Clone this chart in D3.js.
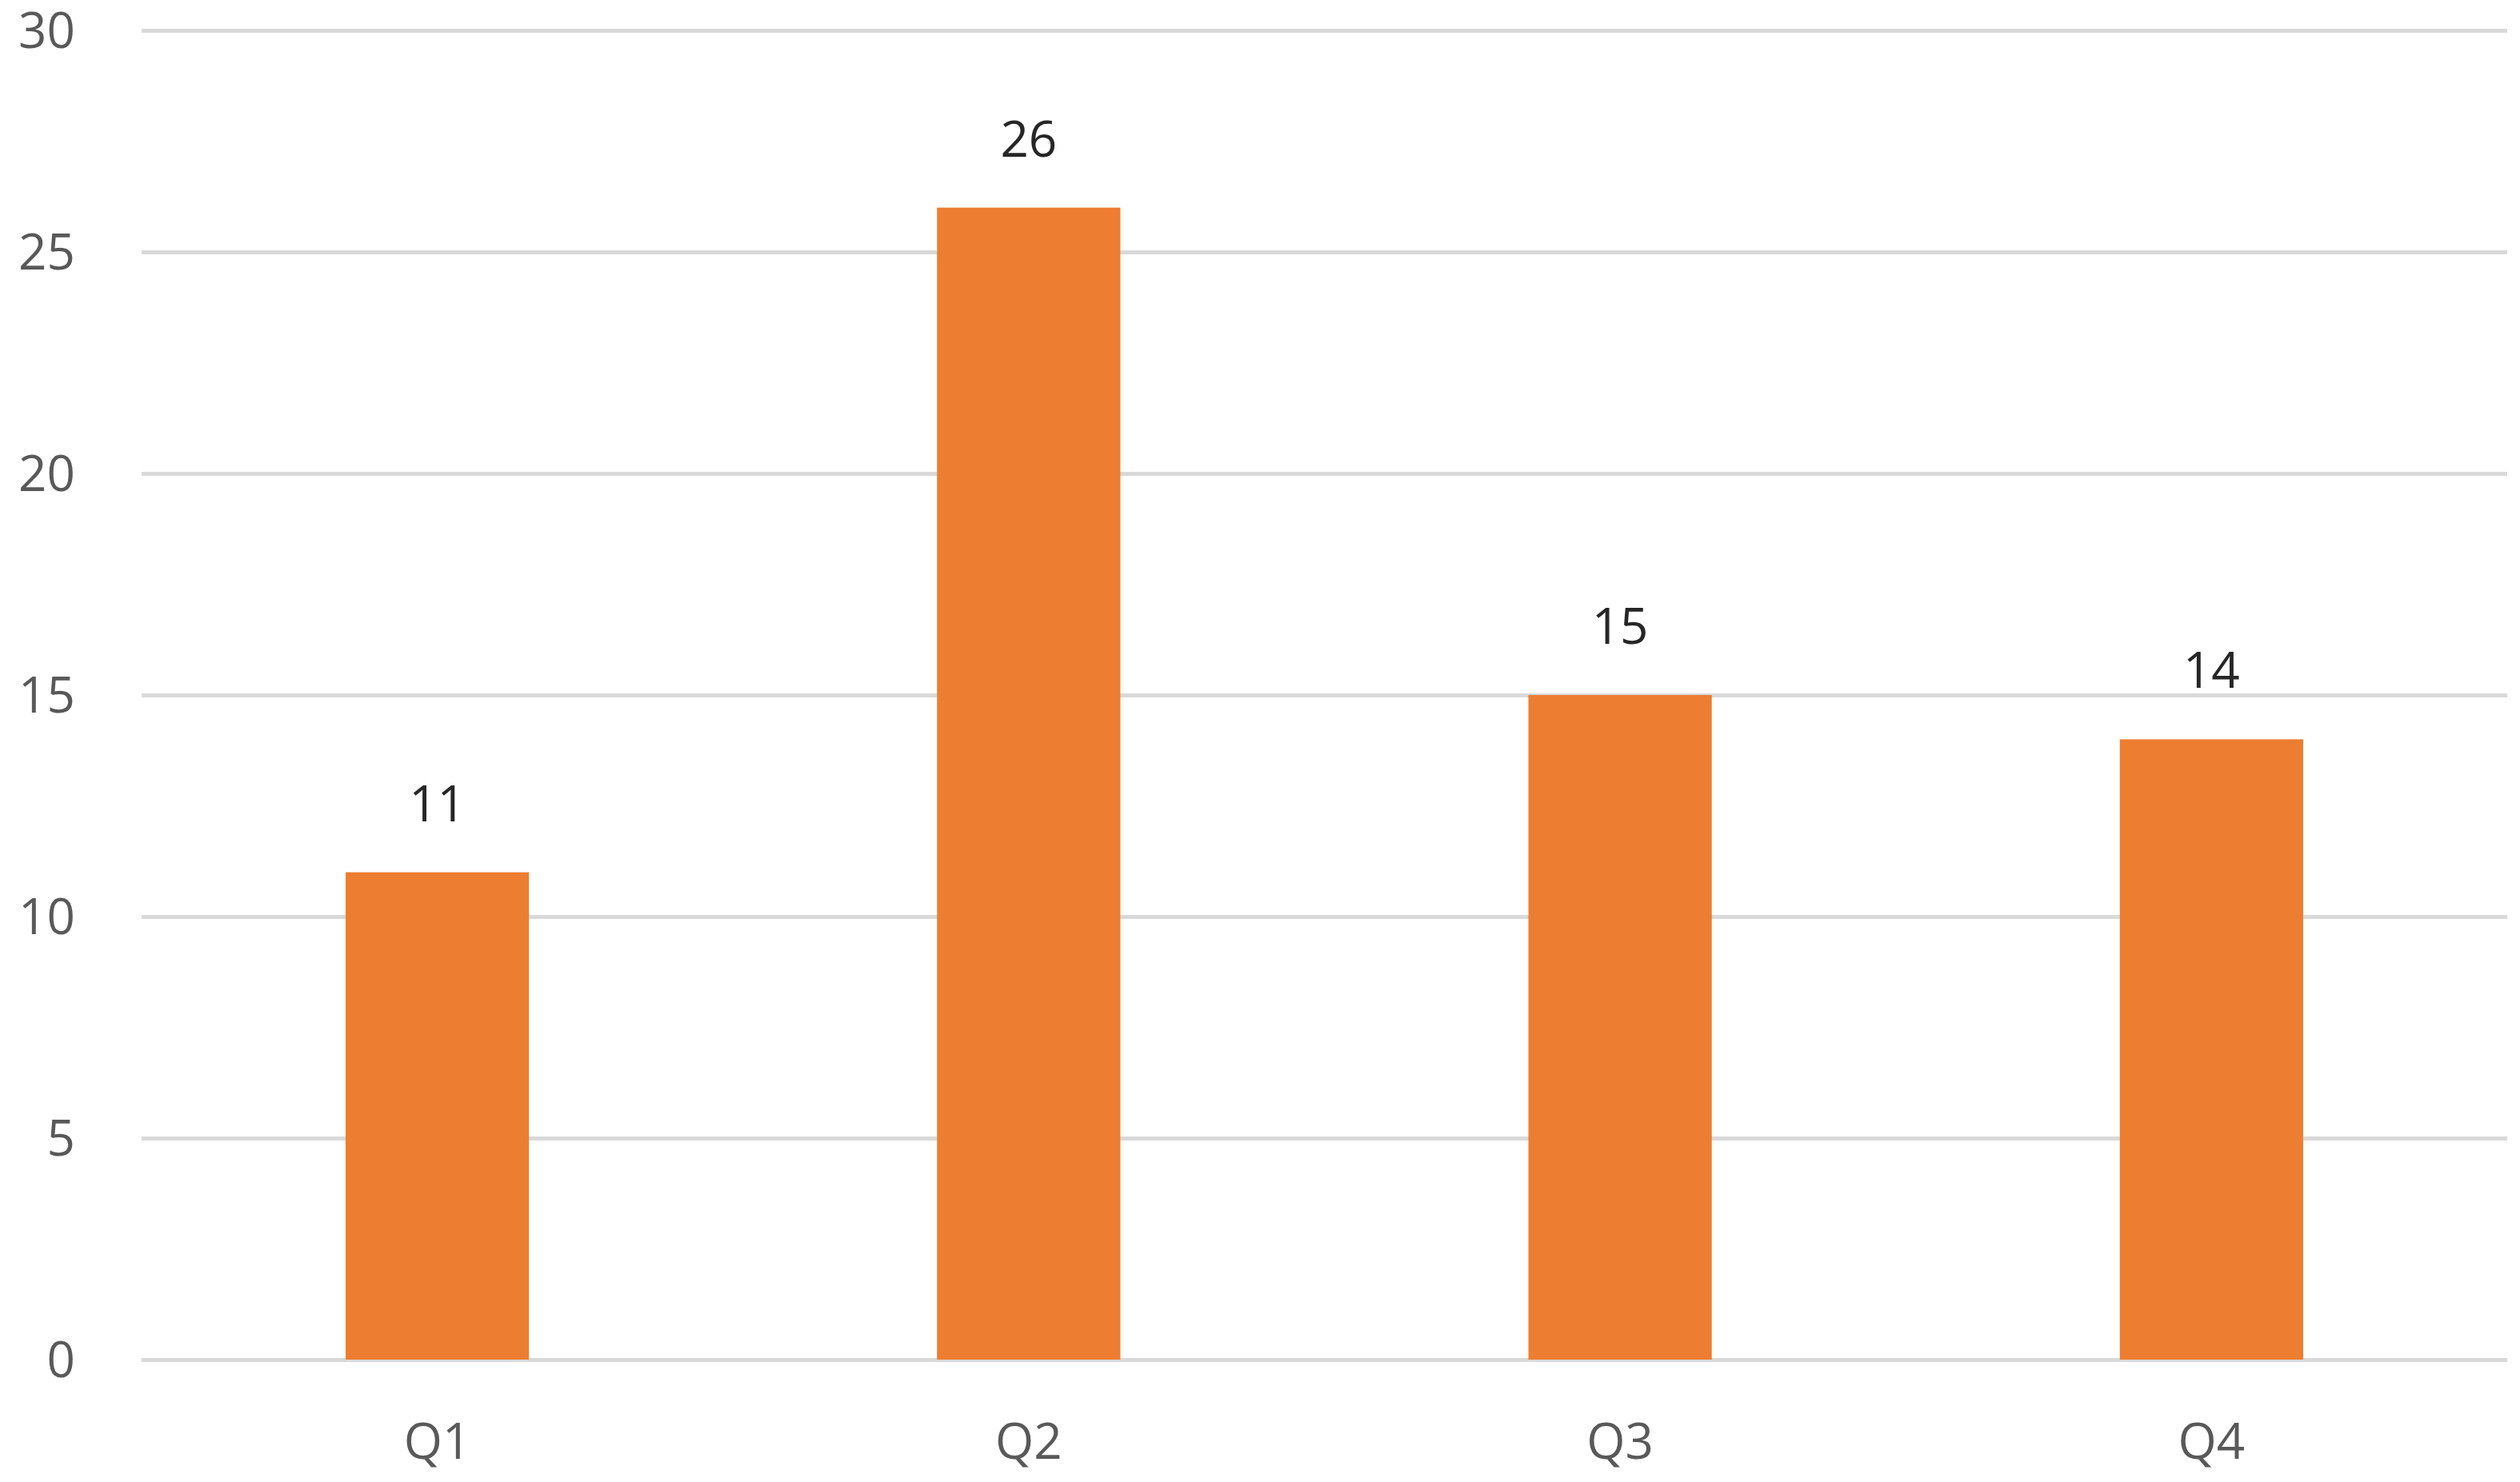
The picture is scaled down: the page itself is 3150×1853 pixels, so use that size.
<!doctype html>
<html>
<head>
    <meta charset="UTF-8">
    <title>Quarterly values</title>
    <script src="https://d3js.org/d3.v7.min.js" charset="utf-8"></script>
    <style>
        body { margin: 0; background: #fff; }
        text { font-family: "Open Sans", "Liberation Sans", sans-serif; }
    </style>
</head>
<body>
    <svg id="chart" width="3150" height="1853"></svg>
    <script type="text/javascript">

        var quarters = ["Q1", "Q2", "Q3", "Q4"];
        var values = [11, 26, 15, 14];
        var yTicks = [0, 5, 10, 15, 20, 25, 30];

        var svg = d3.select("#chart");
        var plotLeft = 177, plotRight = 3134, plotTop = 38, plotBottom = 1700;
        var fontSize = 62;

        var x = d3.scaleBand()
                    .domain(quarters)
                    .range([plotLeft, plotRight])
                    .paddingInner(0.69)
                    .paddingOuter(0.345);

        var y = d3.scaleLinear()
                    .domain([0, 30])
                    .range([plotBottom, plotTop]);

        // gridlines + y labels
        var yAxis = svg.append("g")
                    .attr("transform", "translate(" + plotLeft + ",0)")
                    .call(d3.axisLeft(y)
                            .tickValues(yTicks)
                            .tickSize(-(plotRight - plotLeft))
                            .tickPadding(83));
        yAxis.select(".domain").remove();
        yAxis.selectAll("line")
                .attr("stroke", "#d9d9d9")
                .attr("stroke-width", 5);
        yAxis.selectAll("text")
                .attr("font-size", fontSize)
                .attr("fill", "#595959")
                .attr("dy", "0.35em");

        // bars
        svg.selectAll("rect.bar")
                .data(values)
                .enter().append("rect")
                .attr("class", "bar")
                .attr("x", function(d, i) { return x(quarters[i]); })
                .attr("y", function(d) { return y(d); })
                .attr("width", x.bandwidth())
                .attr("height", function(d) { return y(0) - y(d); })
                .attr("fill", "#ed7d31");

        // value labels
        svg.selectAll("text.value")
                .data(values)
                .enter().append("text")
                .attr("class", "value")
                .text(function(d) { return d; })
                .attr("x", function(d, i) { return x(quarters[i]) + x.bandwidth() / 2; })
                .attr("y", function(d) { return y(d) - 64; })
                .attr("text-anchor", "middle")
                .attr("font-size", fontSize)
                .attr("fill", "#262626");

        // category labels
        var xAxis = svg.append("g")
                    .attr("transform", "translate(0," + plotBottom + ")")
                    .call(d3.axisBottom(x).tickSize(0).tickPadding(80));
        xAxis.select(".domain").remove();
        xAxis.selectAll("text")
                .attr("font-size", fontSize)
                .attr("fill", "#595959");
    </script>
</body>
</html>
